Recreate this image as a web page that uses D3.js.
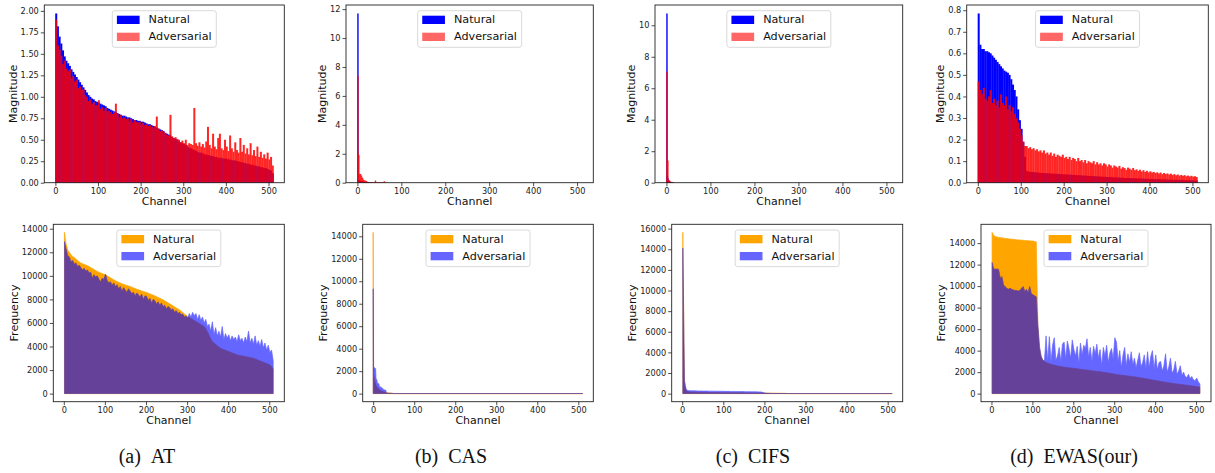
<!DOCTYPE html>
<html>
<head>
<meta charset="utf-8">
<script src="https://cdn.jsdelivr.net/npm/d3@7"></script>
<style>
body { margin: 0; background: #fff; }
svg { display: block; }
text { font-family: "DejaVu Sans", sans-serif; }
</style>
</head>
<body>
<svg id="fig" width="1215" height="473"></svg>
<script>
"use strict";

// ---- data ----
// AT / EWAS: one value per 4 channels; CAS / CIFS magnitude and CAS frequency: one value per channel
var atMagNatural = [
  1.97,1.82,1.70,1.62,1.54,1.47,1.42,1.39, 1.36,1.32,1.29,1.26,1.23,1.20,1.17,1.14,
  1.11,1.08,1.05,1.02,1.00,0.98,0.97,0.95, 0.94,0.93,0.92,0.91,0.90,0.89,0.87,0.86,
  0.85,0.84,0.83,0.82,0.81,0.80,0.79,0.78, 0.78,0.77,0.76,0.76,0.75,0.74,0.73,0.73,
  0.72,0.72,0.71,0.71,0.70,0.69,0.68,0.68, 0.67,0.66,0.65,0.64,0.63,0.62,0.61,0.60,
  0.58,0.57,0.56,0.55,0.53,0.52,0.51,0.50, 0.48,0.47,0.46,0.45,0.44,0.42,0.41,0.40,
  0.39,0.38,0.37,0.36,0.35,0.35,0.34,0.33, 0.33,0.32,0.32,0.31,0.31,0.30,0.30,0.29,
  0.29,0.29,0.28,0.28,0.28,0.27,0.27,0.26, 0.26,0.26,0.25,0.25,0.24,0.24,0.23,0.23,
  0.22,0.22,0.21,0.21,0.20,0.20,0.19,0.19, 0.18,0.18,0.17,0.17,0.16,0.15,0.14,0.11
];
var atMagAdversarial = [
  1.90,1.60,1.55,1.48,1.38,1.42,1.33,1.30, 1.32,1.22,1.24,1.18,1.20,1.10,1.12,1.08,
  1.09,1.02,1.00,0.95,0.97,0.92,0.94,0.90, 0.90,0.96,0.86,0.88,0.84,0.87,0.83,0.84,
  0.82,0.80,0.82,0.92,0.80,0.76,0.79,0.75, 0.76,0.74,0.75,0.72,0.74,0.70,0.73,0.71,
  0.70,0.71,0.68,0.70,0.67,0.68,0.66,0.67, 0.65,0.64,0.66,0.77,0.63,0.60,0.61,0.59,
  0.58,0.56,0.55,0.79,0.54,0.52,0.53,0.51, 0.50,0.47,0.49,0.46,0.50,0.44,0.46,0.45,
  0.44,0.87,0.46,0.43,0.47,0.42,0.45,0.41, 0.48,0.65,0.44,0.40,0.57,0.42,0.39,0.52,
  0.57,0.40,0.38,0.50,0.42,0.37,0.55,0.40, 0.36,0.47,0.38,0.35,0.52,0.36,0.44,0.34,
  0.40,0.33,0.46,0.32,0.38,0.31,0.42,0.30, 0.36,0.29,0.33,0.28,0.35,0.27,0.30,0.20
];
var atFreqNatural = [
  13690,12700,12200,12000,11800,11650,11550,11420, 11300,11200,11080,11030,10970,10910,10860,10800,
  10710,10620,10540,10450,10370,10310,10250,10200, 10140,10090,10000,9920,9830,9750,9660,9590,
  9520,9450,9390,9320,9280,9230,9190,9140, 9100,9040,8980,8920,8870,8810,8770,8720,
  8680,8630,8590,8530,8470,8420,8360,8300, 8230,8160,8100,8030,7960,7880,7790,7710,
  7620,7540,7450,7370,7280,7200,7110,7000, 6890,6770,6660,6550,6460,6380,6290,6210,
  6120,6040,5950,5870,5780,5700,5500,5250, 4950,4650,4420,4300,4180,4060,3950,3850,
  3790,3740,3680,3620,3570,3510,3460,3400, 3350,3290,3260,3230,3210,3180,3150,3120,
  3090,3060,3030,3000,2940,2890,2830,2780, 2720,2660,2610,2550,2500,2440,2300,2100
];
var atFreqAdversarial = [
  12900,12300,11700,11600,11200,11300,11000,11100, 10800,10900,10700,10500,10650,10400,10500,10250,
  10300,9800,10100,9900,10000,9700,9500,9800, 9700,10150,9600,9400,9500,9200,9400,9100,
  9250,8900,9100,8700,9000,8800,8600,8900, 8700,8500,8600,8300,8550,8400,8200,8450,
  8000,8300,8250,7900,8100,7700,8000,7900, 7600,7800,7500,7700,7400,7500,7200,7400,
  7300,7100,7200,6900,7050,6800,6900,6700, 6750,6500,6600,6400,6800,6500,6900,6600,
  6800,6300,6700,6200,6500,6000,6300,5700, 5900,5300,6100,5000,5600,4900,5300,4800,
  5700,4600,5100,4700,5000,4500,4900,4600, 4800,4400,5000,4500,4700,4300,4800,4400,
  5300,4300,4700,4200,4900,4100,4500,4000, 4600,3900,4300,3700,4100,3500,3700,2800
];

var casMagNatural = [
  11.7,0.2,0.15,0.18,0.12,0.1,0.14,0.09,0.08,0.1,0.07,0.06,0.08,0.05,0.06,0.05,
  0.04,0.05,0.03,0.04,0.03,0.03,0.02,0.03,0.02,0.02,0.02,0.02,0.01,0.02,0.01,0.01
];
var casMagAdversarial = [
  7.4,2.0,1.9,0.55,0.62,0.5,0.6,0.45,0.5,0.3,0.35,0.3,0.2,0.15,0.18,0.12,
  0.1,0.15,0.08,0.12,0.06,0.07,0.05,0.04,0.05,0.03,0.04,0.03,0.02,0.03,0.02,0.02,
  0.02,0.03,0.02,0.02,0.03,0.02,0.02,0.05,0.15,0.03,0.02,0.02,0.02,0.03,0.02,0.02,
  0.02,0.02,0.02,0.02,0.02,0.02,0.02,0.02,0.02,0.02,0.02,0.02,0.1,0.02,0.02,0.02
];
var casFreqNatural = [
  14350,1800,1500,1300,1150,1000,850,750,680,620,560,500,460,420,390,360,
  330,300,280,260,240,220,200,190,180,170,160,150,140,130,120,110,
  100,95,90,85,80,75,70,65,60,55,50,48,46,44,42,40
];
var casFreqAdversarial = [
  9330,2300,2300,2300,2300,2250,2200,1300,1280,1250,950,920,900,900,880,640,
  620,600,600,580,560,480,470,460,450,340,330,340,320,330,310,300,
  60,50,45,40,38,36,34,32,30,30,30,30,30,30,30,30
];

var cifsMagNatural = [10.75,0.45,0.3,0.12,0.1,0.08,0.06,0.05,0.04,0.03,0.03,0.02,0.02,0.02,0.01,0.01];
var cifsMagAdversarial = [7.06,1.42,1.4,0.2,0.18,0.15,0.12,0.08,0.06,0.05,0.04,0.03,0.02,0.02,0.02,0.01];
var cifsFreqNatural = [
  15640,900,300,200,170,160,150,145,140,135,130,130,125,120,120,115,
  110,110,105,105,100,100,100,95,95,95,90,90,90,85,85,85,
  80,80,80,75,75,75,70,70,70,65,65,65,60,60,60,60,
  58,56,55,54,52,50,48,46,44,42,40,38,36,34,32,30
];
var cifsFreqAdversarial = [
  14120,1300,450,300,290,280,280,270,270,260,260,260,250,250,250,250,
  240,240,240,240,230,230,230,230,230,220,220,220,220,210,210,210,
  210,200,200,200,200,200,190,190,190,190,180,180,180,180,170,170,
  150,100,60,40,30,25,20,18,16,14,12,10,10,10,10,10
];

var ewasMagNatural = [
  0.785,0.64,0.62,0.62,0.61,0.61,0.605,0.60, 0.59,0.58,0.57,0.56,0.55,0.54,0.53,0.52,
  0.515,0.51,0.50,0.48,0.455,0.43,0.40,0.34, 0.29,0.25,0.19,0.12,0.055,0.052,0.050,0.050,
  0.049,0.048,0.047,0.047,0.046,0.045,0.045,0.044, 0.044,0.043,0.043,0.042,0.042,0.041,0.041,0.040,
  0.040,0.039,0.039,0.038,0.038,0.037,0.037,0.036, 0.036,0.035,0.035,0.034,0.034,0.033,0.033,0.032,
  0.032,0.031,0.031,0.030,0.030,0.029,0.029,0.028, 0.028,0.027,0.027,0.026,0.026,0.026,0.025,0.025,
  0.024,0.024,0.024,0.023,0.023,0.022,0.022,0.022, 0.021,0.021,0.021,0.020,0.020,0.020,0.019,0.019,
  0.019,0.018,0.018,0.018,0.017,0.017,0.017,0.016, 0.016,0.016,0.016,0.015,0.015,0.015,0.014,0.014,
  0.014,0.014,0.013,0.013,0.013,0.013,0.012,0.012, 0.012,0.012,0.011,0.011,0.011,0.011,0.010,0.010
];
var ewasMagAdversarial = [
  0.47,0.43,0.41,0.44,0.39,0.38,0.40,0.43, 0.37,0.39,0.36,0.38,0.35,0.41,0.37,0.36,
  0.40,0.34,0.36,0.33,0.35,0.32,0.30,0.28, 0.25,0.22,0.19,0.17,0.17,0.16,0.165,0.155,
  0.16,0.15,0.155,0.145,0.15,0.14,0.15,0.135, 0.14,0.13,0.14,0.125,0.135,0.12,0.13,0.125,
  0.12,0.13,0.115,0.12,0.11,0.12,0.105,0.115, 0.11,0.10,0.115,0.10,0.105,0.095,0.105,0.09,
  0.10,0.095,0.09,0.10,0.085,0.095,0.085,0.09, 0.08,0.09,0.085,0.075,0.085,0.08,0.07,0.08,
  0.075,0.07,0.078,0.065,0.072,0.068,0.06,0.07, 0.065,0.06,0.068,0.058,0.062,0.055,0.06,0.052,
  0.058,0.05,0.055,0.048,0.053,0.047,0.05,0.045, 0.048,0.043,0.047,0.04,0.045,0.04,0.043,0.038,
  0.042,0.036,0.04,0.034,0.038,0.033,0.036,0.032, 0.035,0.03,0.033,0.029,0.032,0.028,0.03,0.026
];
var ewasFreqNatural = [
  15000,14700,14620,14560,14530,14510,14490,14460, 14440,14420,14400,14380,14360,14350,14330,14310,
  14300,14290,14270,14260,14250,14240,14220,14210, 14200,14190,14150,14120,6300,4200,3450,3150,
  3000,2900,2830,2780,2740,2690,2650,2610, 2580,2550,2520,2490,2460,2440,2420,2400,
  2380,2370,2350,2330,2310,2290,2270,2250, 2230,2210,2190,2170,2150,2130,2110,2090,
  2070,2050,2030,2010,1990,1970,1950,1930, 1900,1870,1840,1810,1790,1760,1740,1720,
  1700,1680,1660,1640,1620,1600,1580,1560, 1540,1510,1490,1460,1430,1400,1380,1350,
  1330,1300,1270,1250,1220,1200,1170,1140, 1110,1090,1060,1030,1010,980,960,940,
  920,900,880,860,840,820,800,780, 760,740,720,700,680,660,640,600
];
var ewasFreqAdversarial = [
  12200,11600,11580,11600,11550,10740,10900,10120, 9950,9800,9720,9810,9700,9650,9600,9590,
  9550,9600,9800,9960,9500,9700,9400,9960, 9300,9190,9100,9000,6400,4380,3450,3100,
  3050,5370,3000,5300,2950,4530,5200,3100, 3500,4300,3000,4600,4800,3200,4900,4200,
  3300,5000,4100,3500,4400,2800,4700,3600, 4500,4200,5100,3400,4300,3000,4400,3700,
  4600,3300,4100,2600,4300,3500,4500,2900, 3800,4200,3200,5200,4800,3000,4000,2400,
  3600,4300,2600,3700,2900,3900,2700,3300, 2400,3100,3800,2500,2900,3600,2300,3900,
  2400,3500,4000,2300,3600,2200,2900,3000, 2100,2600,3700,2000,2500,3300,1900,2200,
  3000,1800,2100,2600,1700,2000,1600,1500, 1800,1400,1600,1300,1200,1450,1100,900
];

// ticks
var channelTicks = [0, 100, 200, 300, 400, 500];
var atMagTicks = [0, 0.25, 0.5, 0.75, 1, 1.25, 1.5, 1.75, 2];
var casMagTicks = [0, 2, 4, 6, 8, 10, 12];
var cifsMagTicks = [0, 2, 4, 6, 8, 10];
var ewasMagTicks = [0, 0.1, 0.2, 0.3, 0.4, 0.5, 0.6, 0.7, 0.8];
var freqTicks14 = [0, 2000, 4000, 6000, 8000, 10000, 12000, 14000];
var freqTicks16 = [0, 2000, 4000, 6000, 8000, 10000, 12000, 14000, 16000];
var seriesNames = ["Natural", "Adversarial"];

// ---- layout ----
var svg = d3.select("#fig");
var topRow = {y0: 5, y1: 182.7};
var bottomRow = {y0: 224.3, y1: 401.7};
var captionY = 463;

var columns = [
    {caption: "(a)\u00a0\u00a0AT", captionX: 147,
     magBox: [44.3, 284.3], freqBox: [53.3, 284.3],
     mag: [atMagNatural, atMagAdversarial], magBin: 4, magTicks: atMagTicks, magFormat: ".2f",
     freq: [atFreqNatural, atFreqAdversarial], freqBin: 4, freqTicks: freqTicks14},
    {caption: "(b)\u00a0\u00a0CAS", captionX: 451,
     magBox: [346, 593.3], freqBox: [362.7, 593.3],
     mag: [casMagNatural, casMagAdversarial], magBin: 1, magTicks: casMagTicks, magFormat: "d",
     freq: [casFreqNatural, casFreqAdversarial], freqBin: 1, freqTicks: freqTicks14},
    {caption: "(c)\u00a0\u00a0CIFS", captionX: 753,
     magBox: [655, 902.7], freqBox: [671.7, 902.7],
     mag: [cifsMagNatural, cifsMagAdversarial], magBin: 1, magTicks: cifsMagTicks, magFormat: "d",
     freq: [cifsFreqNatural, cifsFreqAdversarial], freqBin: 4, freqTicks: freqTicks16},
    {caption: "(d)\u00a0\u00a0EWAS(our)", captionX: 1074,
     magBox: [966.7, 1208.3], freqBox: [981, 1211],
     mag: [ewasMagNatural, ewasMagAdversarial], magBin: 4, magTicks: ewasMagTicks, magFormat: ".1f",
     freq: [ewasFreqNatural, ewasFreqAdversarial], freqBin: 4, freqTicks: freqTicks14}
];

function styleAxis(sel) {
    sel.select(".domain").remove();
    sel.selectAll(".tick line").attr("stroke", "#222").attr("stroke-width", 0.8);
    sel.selectAll(".tick text")
        .attr("fill", "#222")
        .style("font-size", "8.2px")
        .style("font-family", "'DejaVu Sans', sans-serif");
}

// frame, ticks and axis labels
function drawFrame(g, x, y, box, row, yTicks, yFormat, yLabel) {
    g.append("g")
        .attr("transform", "translate(0," + row.y1 + ")")
        .call(d3.axisBottom(x).tickValues(channelTicks).tickSize(3.5).tickPadding(1.5))
        .call(styleAxis);
    var yAxis = g.append("g")
        .attr("transform", "translate(" + box[0] + ",0)")
        .call(d3.axisLeft(y).tickValues(yTicks).tickFormat(d3.format(yFormat)).tickSize(3.5).tickPadding(2))
        .call(styleAxis);
    var left = box[0] + yAxis.node().getBBox().x;

    g.append("rect")
        .attr("x", box[0]).attr("y", row.y0)
        .attr("width", box[1] - box[0]).attr("height", row.y1 - row.y0)
        .attr("fill", "none").attr("stroke", "#222").attr("stroke-width", 0.9);

    g.append("text")
        .attr("x", (box[0] + box[1]) / 2).attr("y", row.y1 + 19)
        .attr("text-anchor", "middle").attr("dominant-baseline", "central")
        .style("font-size", "11px").attr("fill", "#111")
        .text("Channel");
    g.append("text")
        .attr("transform", "translate(" + (left - 7.5) + "," + ((row.y0 + row.y1) / 2) + ") rotate(-90)")
        .attr("text-anchor", "middle").attr("dominant-baseline", "central")
        .style("font-size", "11px").attr("fill", "#111")
        .text(yLabel);
}

function drawLegend(g, box, row, colors, opacities) {
    var w = 104, h = 36.6;
    var lg = g.append("g")
        .attr("transform", "translate(" + ((box[0] + box[1]) / 2 - w / 2) + "," + (row.y0 + 5.7) + ")");
    lg.append("rect")
        .attr("width", w).attr("height", h).attr("rx", 2.5)
        .attr("fill", "#fff").attr("fill-opacity", 0.8)
        .attr("stroke", "#d0d0d0").attr("stroke-width", 0.8);
    seriesNames.forEach(function(name, i) {
        lg.append("rect")
            .attr("x", 4.6).attr("y", 5 + i * 17)
            .attr("width", 22.7).attr("height", 8.3)
            .attr("fill", colors[i]).attr("fill-opacity", opacities[i]);
        lg.append("text")
            .attr("x", 36.3).attr("y", 9.2 + i * 17)
            .attr("dominant-baseline", "central")
            .style("font-size", "11.2px").attr("fill", "#111")
            .text(name);
    });
}

// top row: per-channel magnitude bars
function drawMagnitude(col) {
    var box = col.magBox;
    var bin = col.magBin;
    var x = d3.scaleLinear().domain([-25.99, 536.99]).range(box);
    var y = d3.scaleLinear()
        .domain([0, d3.max(col.mag[0].concat(col.mag[1])) * 1.05])
        .range([topRow.y1, topRow.y0]);
    var g = svg.append("g");
    var bw = Math.max(1.1, x(bin) - x(0)) + 0.3;

    function bars(values, color, opacity) {
        g.append("g")
            .attr("opacity", opacity)
            .attr("fill", color)
            .selectAll("rect")
            .data(values)
            .join("rect")
            .attr("x", function(d, i) { return x(i * bin - 0.4); })
            .attr("width", bw)
            .attr("y", function(d) { return y(d); })
            .attr("height", function(d) { return y(0) - y(d); });
    }
    bars(col.mag[0], "#0000ff", 1);
    bars(col.mag[1], "#ff0000", 0.85);

    drawFrame(g, x, y, box, topRow, col.magTicks, col.magFormat, "Magnitude");
    drawLegend(g, box, topRow, ["#0000ff", "#ff0000"], [1, 0.6]);
}

// bottom row: frequency as filled areas
function drawFrequency(col) {
    var box = col.freqBox;
    var bin = col.freqBin;
    var x = d3.scaleLinear().domain([-25.55, 536.55]).range(box);
    var maxV = d3.max(col.freq[0].concat(col.freq[1]));
    var y = d3.scaleLinear().domain([-0.05 * maxV, 1.05 * maxV]).range([bottomRow.y1, bottomRow.y0]);
    var g = svg.append("g");

    var area = d3.area()
        .x(function(d) { return x(d[0]); })
        .y0(y(0))
        .y1(function(d) { return y(d[1]); });

    function points(values) {
        var pts = values.map(function(v, i) { return [i * bin + (bin - 1) / 2, v]; });
        var last = pts[pts.length - 1][0];
        if (last < 505) {
            // channels beyond the listed ones read as zero
            pts.push([last + bin, 0]);
            pts.push([511, 0]);
        }
        return pts;
    }
    function fill(values, color, opacity) {
        g.append("g")
            .attr("opacity", opacity)
            .append("path")
            .datum(points(values))
            .attr("d", area)
            .attr("fill", color)
            .attr("stroke", color)
            .attr("stroke-width", 0.7)
            .attr("stroke-linejoin", "round");
    }
    fill(col.freq[0], "#ffa500", 1);
    fill(col.freq[1], "#0000ff", 0.6);

    drawFrame(g, x, y, box, bottomRow, col.freqTicks, "d", "Frequency");
    drawLegend(g, box, bottomRow, ["#ffa500", "#0000ff"], [1, 0.6]);
}

columns.forEach(function(col) {
    drawMagnitude(col);
    drawFrequency(col);
    svg.append("text")
        .attr("x", col.captionX).attr("y", captionY)
        .attr("text-anchor", "middle")
        .style("font-family", "'Liberation Serif', 'Times New Roman', serif")
        .style("font-size", "20px")
        .attr("fill", "#111")
        .text(col.caption);
});
</script>
</body>
</html>
